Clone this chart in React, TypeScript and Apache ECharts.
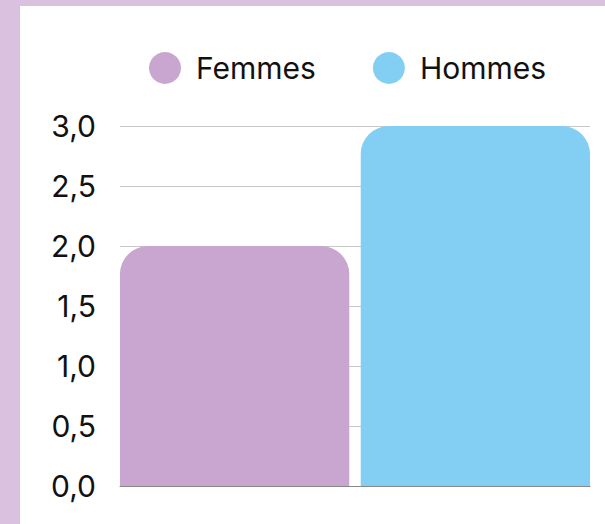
import React, { useEffect, useRef } from "react";
import * as echarts from "echarts";

const categories = [""];
const seriesNames = ["Femmes", "Hommes"];
const femmesValues = [2.0];
const hommesValues = [3.0];
const colors = ["#c9a6cf", "#83cff4"];

const FONT = "Inter";

export default function App() {
  const ref = useRef<HTMLDivElement>(null);
  useEffect(() => {
    if (!ref.current) return;
    const chart = echarts.init(ref.current, null, { renderer: "svg" });
    chart.setOption({
      animation: false,
      textStyle: { fontFamily: FONT },
      legend: {
        top: 41,
        left: 124,
        icon: "circle",
        itemWidth: 32,
        itemHeight: 32,
        itemGap: 57,
        textStyle: { fontSize: 30, color: "#111", padding: [0, 0, 0, 10], fontFamily: FONT },
        data: seriesNames,
      },
      grid: { left: 100, right: 15, top: 120, bottom: 38, containLabel: false },
      xAxis: {
        type: "category",
        data: categories,
        axisLine: { show: true, lineStyle: { color: "#888", width: 1 } },
        axisTick: { show: false },
        axisLabel: { show: false },
      },
      yAxis: {
        type: "value",
        min: 0,
        max: 3,
        interval: 0.5,
        axisLabel: {
          fontSize: 30,
          color: "#111",
          margin: 24,
          fontFamily: FONT,
          formatter: (v: number) => v.toFixed(1).replace(".", ","),
        },
        splitLine: { lineStyle: { color: "#c8c8c8", width: 1 } },
      },
      series: [
        {
          name: seriesNames[0],
          type: "bar",
          data: femmesValues,
          barGap: "5%",
          barCategoryGap: 0,
          itemStyle: { color: colors[0], borderRadius: [28, 28, 0, 0] },
        },
        {
          name: seriesNames[1],
          type: "bar",
          data: hommesValues,
          barGap: "5%",
          barCategoryGap: 0,
          itemStyle: { color: colors[1], borderRadius: [28, 28, 0, 0] },
        },
      ],
    });
    return () => chart.dispose();
  }, []);
  return (
    <div style={{ position: "fixed", left: 0, top: 0, width: 605, height: 524, background: "#d9c1df" }}>
      <div
        ref={ref}
        style={{ position: "absolute", left: 20, top: 6, width: 585, height: 518, background: "#ffffff" }}
      />
    </div>
  );
}
